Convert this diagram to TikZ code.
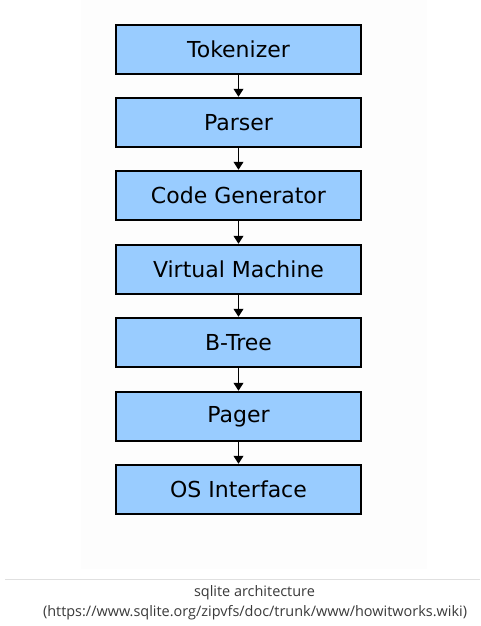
\documentclass[tikz,border=0pt]{standalone}
\usepackage{fontspec}
\setmainfont{DejaVu Sans}
\newfontfamily\capfont{Open Sans}
\usetikzlibrary{arrows.meta}
\definecolor{boxblue}{HTML}{99CCFF}
\definecolor{capgray}{HTML}{3A3A3A}
\definecolor{rulegray}{HTML}{E0E0E0}
\definecolor{bgwhite}{HTML}{FDFDFD}
\begin{document}
\begin{tikzpicture}[x=1pt,y=-1pt,
  stage/.style={draw=black, line width=1.3pt, fill=boxblue, minimum width=245pt, minimum height=49pt, inner sep=0pt, font=\fontsize{22}{26}\selectfont},
  flow/.style={line width=1pt, -{Triangle[length=8pt,width=10pt]}, shorten >=0.6pt},
  caption/.style={font=\capfont\fontsize{14.45}{17}\selectfont, text=capgray, inner sep=0pt}]
\useasboundingbox (0,0) rectangle (480,626);
\fill[white] (0,0) rectangle (480,626);
\fill[bgwhite] (81,0) rectangle (427,569);
\node[stage] (tok) at (238.5,49.5) {Tokenizer};
\node[stage] (par) at (238.5,122.5) {Parser};
\node[stage] (cg) at (238.5,195.5) {Code Generator};
\node[stage] (vm) at (238.5,269.5) {Virtual Machine};
\node[stage] (bt) at (238.5,342.5) {B-Tree};
\node[stage] (pg) at (238.5,416.5) {Pager};
\node[stage] (os) at (238.5,489.5) {OS Interface};
\draw[flow] (tok) -- (par);
\draw[flow] (par) -- (cg);
\draw[flow] (cg) -- (vm);
\draw[flow] (vm) -- (bt);
\draw[flow] (bt) -- (pg);
\draw[flow] (pg) -- (os);
\coordinate (rl) at (5,579.5);
\coordinate (rr) at (480,579.5);
\draw[rulegray, line width=1pt] (rl) -- (rr);
\node[caption, anchor=base] (c1) at (254.5,596) {sqlite architecture};
\node[caption, anchor=base] (c2) at (255,616) {(https://www.sqlite.org/zipvfs/doc/trunk/www/howitworks.wiki)};
\end{tikzpicture}
\end{document}
